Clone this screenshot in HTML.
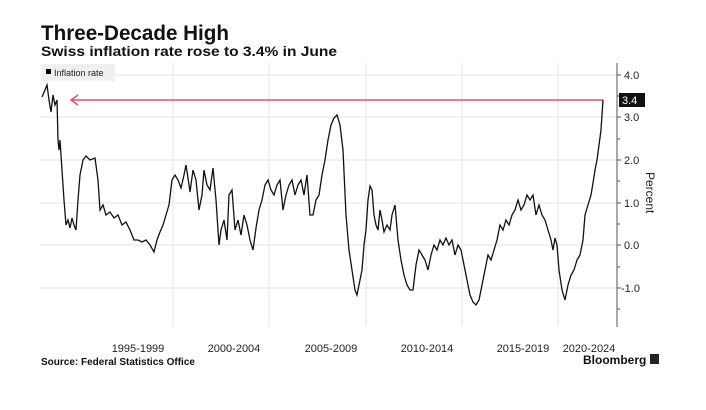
<!DOCTYPE html>
<html><head><style>
body{margin:0;background:#fff;width:706px;height:405px;overflow:hidden;font-family:"Liberation Sans",sans-serif;}
</style></head><body>
<svg width="706" height="405" xmlns="http://www.w3.org/2000/svg" font-family="Liberation Sans, sans-serif">
<rect width="706" height="405" fill="#fff"/>
<text x="41" y="40" font-size="21" font-weight="bold" fill="#111" textLength="188" lengthAdjust="spacingAndGlyphs">Three-Decade High</text>
<text x="41" y="56" font-size="14" font-weight="bold" fill="#111" textLength="296" lengthAdjust="spacingAndGlyphs">Swiss inflation rate rose to 3.4% in June</text>
<g stroke="#e6e6e6" stroke-width="1">
<line x1="40" y1="75" x2="617" y2="75"/><line x1="40" y1="117" x2="617" y2="117"/>
<line x1="40" y1="160" x2="617" y2="160"/><line x1="40" y1="203" x2="617" y2="203"/>
<line x1="40" y1="245" x2="617" y2="245"/><line x1="40" y1="288" x2="617" y2="288"/>
<line x1="173" y1="63" x2="173" y2="327"/><line x1="269" y1="63" x2="269" y2="327"/>
<line x1="366" y1="63" x2="366" y2="327"/><line x1="462" y1="63" x2="462" y2="327"/>
<line x1="558" y1="63" x2="558" y2="327"/>
</g>
<rect x="41" y="64" width="74" height="17" fill="#efefef"/>
<rect x="46" y="69" width="5" height="5" fill="#000"/>
<text x="54" y="76" font-size="9" fill="#222">Inflation rate</text>
<line x1="617" y1="63" x2="617" y2="327" stroke="#555" stroke-width="1"/>
<g stroke="#555" stroke-width="1">
<line x1="617" y1="75" x2="621" y2="75"/><line x1="617" y1="117" x2="621" y2="117"/>
<line x1="617" y1="160" x2="621" y2="160"/><line x1="617" y1="203" x2="621" y2="203"/>
<line x1="617" y1="245" x2="621" y2="245"/><line x1="617" y1="288" x2="621" y2="288"/>
<line x1="617" y1="96" x2="620" y2="96"/><line x1="617" y1="139" x2="620" y2="139"/>
<line x1="617" y1="181" x2="620" y2="181"/><line x1="617" y1="224" x2="620" y2="224"/>
<line x1="617" y1="267" x2="620" y2="267"/><line x1="617" y1="309" x2="620" y2="309"/>
</g>
<g font-size="11" fill="#222">
<text x="624" y="79">4.0</text><text x="624" y="121">3.0</text><text x="624" y="164">2.0</text>
<text x="624" y="207">1.0</text><text x="624" y="249">0.0</text><text x="621" y="292">-1.0</text>
</g>
<text x="0" y="0" font-size="12" fill="#222" transform="translate(646,172) rotate(90)">Percent</text>
<g font-size="11" fill="#222" text-anchor="middle">
<text x="138" y="352">1995-1999</text><text x="234" y="352">2000-2004</text>
<text x="331" y="352">2005-2009</text><text x="427" y="352">2010-2014</text>
<text x="523" y="352">2015-2019</text><text x="589" y="352">2020-2024</text>
</g>
<line x1="72" y1="100" x2="603" y2="100" stroke="#d9546a" stroke-width="1.5"/>
<polyline points="78,95 71,100 78,105" fill="none" stroke="#d9546a" stroke-width="1.5"/>
<polyline fill="none" stroke="#111" stroke-width="1.3" points="42,97 45,90 47,85 49,100 51,112 53,95 55,105 57,100 58,140 59,150 60,140 62,170 64,200 66,225 68,220 70,228 72,218 74,225 76,230 78,200 80,175 83,160 86,156 90,160 95,158 98,180 100,210 103,205 106,215 110,212 114,218 118,215 122,225 126,222 130,230 134,240 138,240 142,242 146,240 150,245 154,252 157,240 160,232 163,225 166,215 169,205 172,180 175,175 178,180 181,188 184,175 186,165 188,178 190,192 193,170 196,180 199,210 202,195 204,170 207,185 210,190 213,168 216,200 219,245 221,230 224,220 227,240 229,195 232,190 235,230 238,220 241,235 244,215 247,225 250,240 253,250 256,228 259,210 262,200 265,185 268,180 271,190 274,195 277,185 280,180 283,210 286,195 289,185 292,180 295,195 298,185 301,180 304,195 307,175 310,215 313,215 316,200 319,195 322,175 325,160 328,140 331,125 334,118 337,115 340,125 343,150 346,215 349,250 352,270 355,290 357,295 359,285 362,270 364,245 366,230 368,200 370,186 372,190 374,215 376,225 378,230 380,210 382,220 384,232 387,225 390,230 392,215 395,205 398,240 401,260 404,275 407,285 410,290 413,290 416,265 419,250 422,255 425,260 428,270 431,255 434,245 437,250 440,240 443,245 446,238 449,245 452,240 455,255 458,245 461,250 464,265 467,280 470,295 473,302 476,305 479,300 482,285 485,270 488,255 491,260 494,250 497,240 500,225 503,230 506,220 509,225 512,215 515,210 518,200 521,210 524,205 527,195 530,200 533,195 536,215 539,205 542,215 545,220 548,230 551,240 553,250 555,238 557,245 559,270 562,290 565,300 568,285 571,275 574,270 577,260 580,255 583,240 585,215 588,205 591,195 593,183 595,170 597,160 599,145 601,130 603,100"/>
<rect x="619" y="93" width="26" height="14" fill="#111"/>
<text x="622" y="104" font-size="11" fill="#fff">3.4</text>
<text x="41" y="365" font-size="10" font-weight="bold" fill="#111">Source: Federal Statistics Office</text>
<text x="583" y="364" font-size="12" font-weight="bold" fill="#111">Bloomberg</text>
<rect x="650" y="354" width="9" height="10" fill="#222"/>
</svg>
</body></html>
